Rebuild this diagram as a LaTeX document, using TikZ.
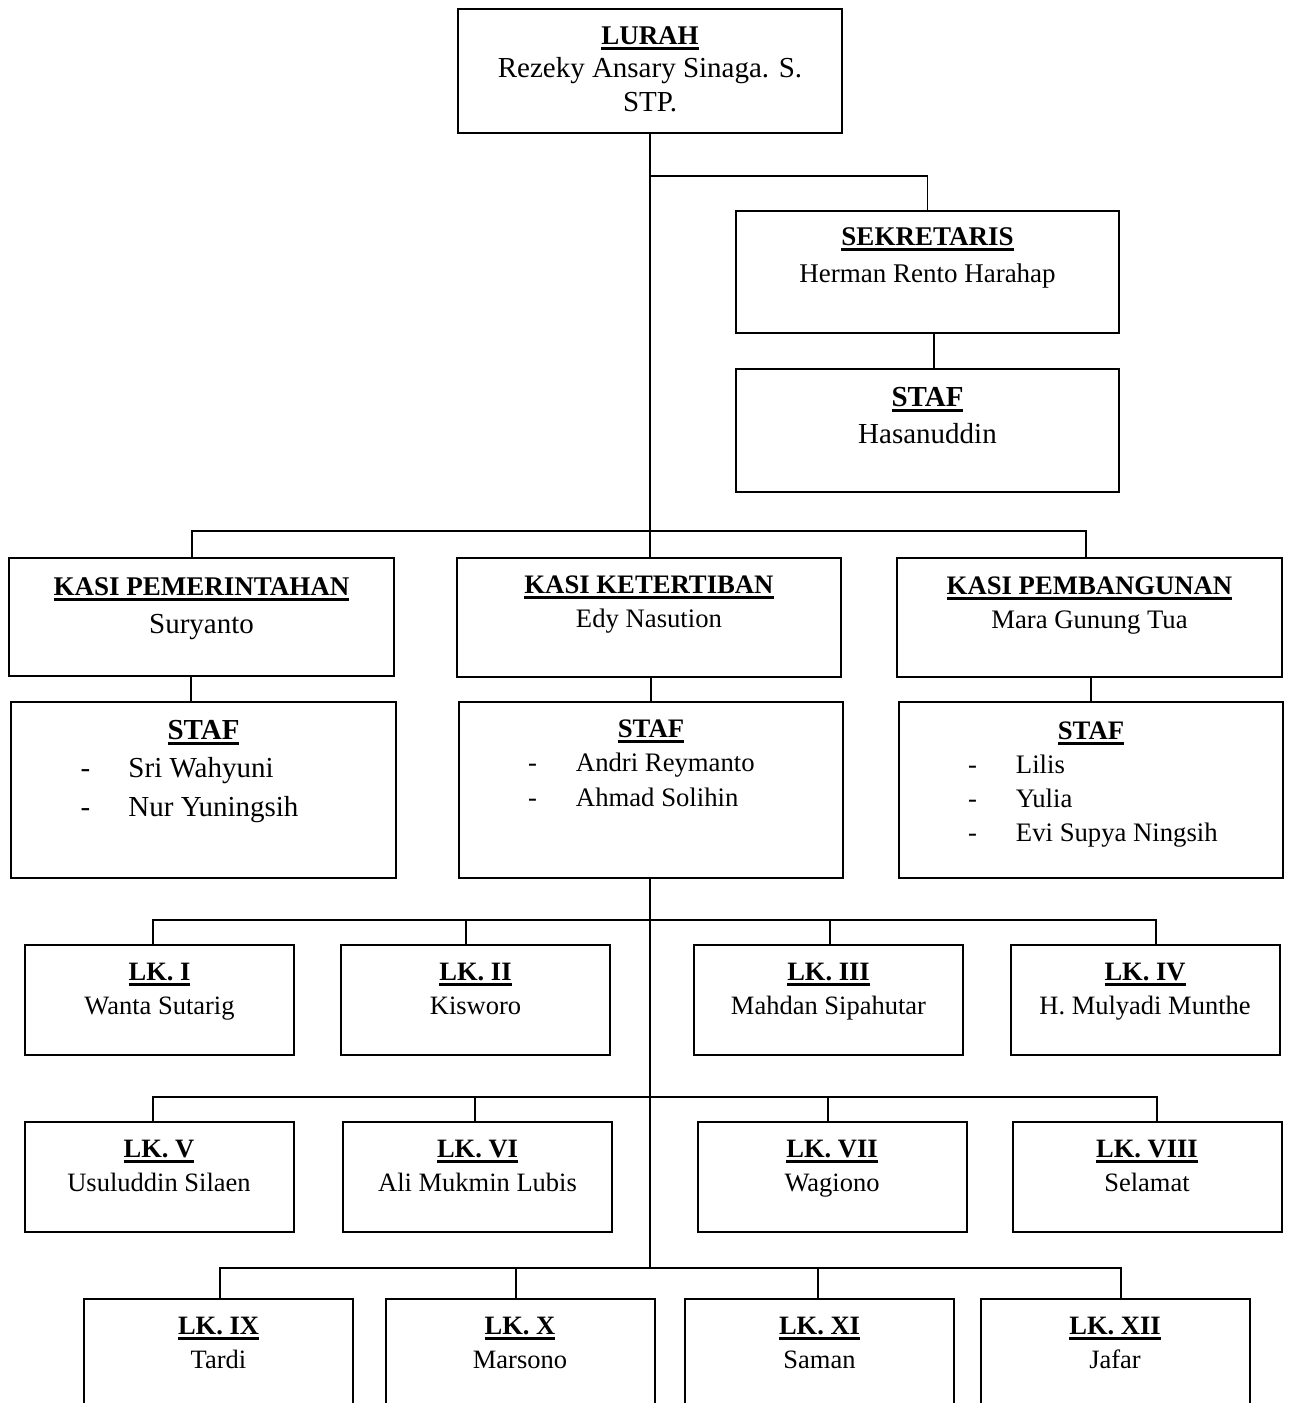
\documentclass[tikz,border=0pt]{standalone}
\usepackage{fontspec}
\setmainfont{Liberation Serif}
\usetikzlibrary{positioning}

\newsavebox\ttlbox
\newcommand\ttl[1]{\sbox\ttlbox{\bfseries #1}\rlap{\rule[-5.5pt]{\wd\ttlbox}{3pt}}\usebox\ttlbox}
\newcommand\stafline[1]{\makebox[246pt][l]{\makebox[48pt][l]{-}#1}}

\begin{document}
\begin{tikzpicture}[x=1pt, y=-1pt,
    box/.style={draw, line width=2pt, inner sep=0pt},
    lkbox/.style={box, minimum width=269pt, minimum height=110pt},
    link/.style={line width=1.7pt, line cap=rect},
    big/.style={font=\fontsize{29}{38}\selectfont, align=center, anchor=base, inner sep=0pt},
    norm/.style={font=\fontsize{26.7}{34.5}\selectfont, align=center, anchor=base, inner sep=0pt},
    lk/.style={font=\fontsize{26.5}{34}\selectfont, align=center, anchor=base, inner sep=0pt}
]
\useasboundingbox (0,0) rectangle (1289,1403);
\clip (0,0) rectangle (1289,1403);

% lurah and sekretaris (text placed by its last baseline)
\node[box, minimum width=384pt, minimum height=124pt] (lurah) at (650,71) {};
\node[big, font=\fontsize{29}{33.5}\selectfont] (lurah-t) at ([yshift=-103pt]lurah.north)
    {{\fontsize{27}{0}\selectfont\ttl{LURAH}}\\Rezeky Ansary Sinaga. S.\\STP.};
\node[box, minimum width=383pt, minimum height=122pt] (sek) at (927.5,272) {};
\node[norm, font=\fontsize{27}{37}\selectfont] (sek-t) at ([yshift=-72pt]sek.north)
    {\ttl{SEKRETARIS}\\Herman Rento Harahap};
\node[box, minimum width=383pt, minimum height=123pt] (staf0) at (927.5,430.5) {};
\node[big, font=\fontsize{29}{37}\selectfont] (staf0-t) at ([yshift=-75pt]staf0.north)
    {\ttl{STAF}\\Hasanuddin};

% kasi
\node[box, minimum width=385pt, minimum height=118pt] (kasi1) at (201.5,617) {};
\node[big] (kasi1-t) at ([yshift=-76pt]kasi1.north)
    {{\fontsize{27}{0}\selectfont\ttl{KASI PEMERINTAHAN}}\\Suryanto};
\node[box, minimum width=384pt, minimum height=119pt] (kasi2) at (649,617.5) {};
\node[norm, font=\fontsize{26.7}{34}\selectfont] (kasi2-t) at ([yshift=-70pt]kasi2.north)
    {\ttl{KASI KETERTIBAN}\\Edy Nasution};
\node[box, minimum width=385pt, minimum height=119pt] (kasi3) at (1089.5,617.5) {};
\node[norm, font=\fontsize{26.7}{34}\selectfont] (kasi3-t) at ([yshift=-71pt]kasi3.north)
    {\ttl{KASI PEMBANGUNAN}\\Mara Gunung Tua};

% staf
\node[box, minimum width=385pt, minimum height=176pt] (staf1) at (203.5,790) {};
\node[big, font=\fontsize{29}{38.5}\selectfont] (staf1-t) at ([yshift=-115pt]staf1.north)
    {\ttl{STAF}\\\stafline{Sri Wahyuni}\\\stafline{Nur Yuningsih}};
\node[box, minimum width=384pt, minimum height=176pt] (staf2) at (651,790) {};
\node[norm] (staf2-t) at ([yshift=-105pt]staf2.north)
    {\ttl{STAF}\\\stafline{Andri Reymanto}\\\stafline{Ahmad Solihin}};
\node[box, minimum width=384pt, minimum height=176pt] (staf3) at (1091,790) {};
\node[norm, font=\fontsize{26.7}{34}\selectfont] (staf3-t) at ([yshift=-140pt]staf3.north)
    {\ttl{STAF}\\\stafline{Lilis}\\\stafline{Yulia}\\\stafline{Evi Supya Ningsih}};

% lingkungan
\foreach \n/\x/\y/\r/\p in {lk1/159.5/1000/I/Wanta Sutarig, lk2/475.5/1000/II/Kisworo,
    lk3/828.5/1000/III/Mahdan Sipahutar, lk4/1145/1000/IV/H. Mulyadi Munthe,
    lk5/159/1177/V/Usuluddin Silaen, lk6/477.5/1177/VI/Ali Mukmin Lubis,
    lk7/832/1177/VII/Wagiono, lk8/1147/1177/VIII/Selamat,
    lk9/218.5/1354/IX/Tardi, lk10/520/1354/X/Marsono,
    lk11/819.5/1354/XI/Saman, lk12/1115/1354/XII/Jafar}{
  \node[lkbox] (\n) at (\x,\y) {};
  \node[lk] (\n-t) at ([yshift=-70pt]\n.north) {\ttl{LK. \r}\\\p};
}

% lines
\coordinate (jsek) at (650,176);
\coordinate (jkasi) at (650,531);
\coordinate (jr3) at (650,1268);
\draw[link] (lurah.south) -- (jkasi);
\draw[link] (jsek) -| (sek.north);
\draw[link] ([xshift=6.5pt]sek.south) -- ([xshift=6.5pt]staf0.north);
\foreach \b/\x in {kasi1/192, kasi2/650, kasi3/1086} {
  \coordinate (d-\b) at (\x,531);
  \draw[link] (d-\b) -- (d-\b |- \b.north);
}
\draw[link] (d-kasi1) -- (d-kasi3);
\foreach \a/\b/\x in {kasi1/staf1/191, kasi2/staf2/651, kasi3/staf3/1091} {
  \coordinate (u-\a) at (\x,0);
  \draw[link] (u-\a |- \a.south) -- (u-\a |- \b.north);
}
\draw[link] (staf2.south -| jr3) -- (jr3);
\foreach \b/\x/\y in {lk1/153/920, lk2/466/920, lk3/830/920, lk4/1156/920,
    lk5/153/1097, lk6/475/1097, lk7/828/1097, lk8/1157/1097,
    lk9/220/1268, lk10/516/1268, lk11/818/1268, lk12/1121/1268} {
  \coordinate (d-\b) at (\x,\y);
  \draw[link] (d-\b) -- (d-\b |- \b.north);
}
\draw[link] (d-lk1) -- (d-lk4);
\draw[link] (d-lk5) -- (d-lk8);
\draw[link] (d-lk9) -- (d-lk12);
\end{tikzpicture}
\end{document}
